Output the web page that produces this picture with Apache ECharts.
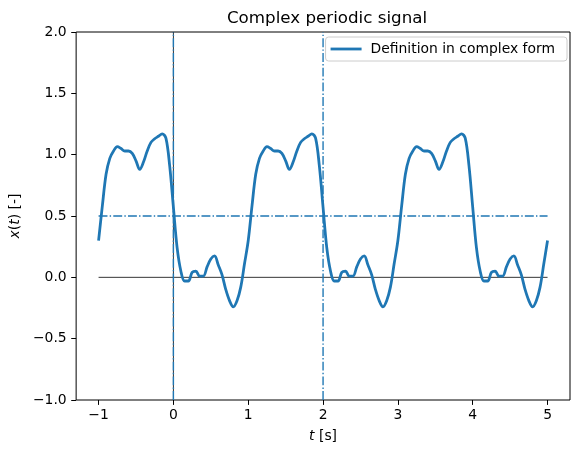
<!DOCTYPE html>
<html>
<head>
<meta charset="utf-8">
<script src="https://cdn.jsdelivr.net/npm/echarts@6/dist/echarts.min.js"></script>
<style>
html,body{margin:0;padding:0;background:#fff;}
#chart{width:579px;height:454px;}
</style>
</head>
<body>
<div id="chart"></div>
<script>
// Sample times (s)
const times = [
 -1.00,-0.95,-0.90,-0.85,-0.80,-0.75,-0.70,-0.65,-0.60,-0.55,-0.50,-0.45,-0.40,-0.35,-0.30,-0.25,-0.20,-0.15,-0.10,-0.05,
  0.00, 0.05, 0.10, 0.15, 0.20, 0.25, 0.30, 0.35, 0.40, 0.45, 0.50, 0.55, 0.60, 0.65, 0.70, 0.75, 0.80, 0.85, 0.90, 0.95,
  1.00, 1.05, 1.10, 1.15, 1.20, 1.25, 1.30, 1.35, 1.40, 1.45, 1.50, 1.55, 1.60, 1.65, 1.70, 1.75, 1.80, 1.85, 1.90, 1.95,
  2.00, 2.05, 2.10, 2.15, 2.20, 2.25, 2.30, 2.35, 2.40, 2.45, 2.50, 2.55, 2.60, 2.65, 2.70, 2.75, 2.80, 2.85, 2.90, 2.95,
  3.00, 3.05, 3.10, 3.15, 3.20, 3.25, 3.30, 3.35, 3.40, 3.45, 3.50, 3.55, 3.60, 3.65, 3.70, 3.75, 3.80, 3.85, 3.90, 3.95,
  4.00, 4.05, 4.10, 4.15, 4.20, 4.25, 4.30, 4.35, 4.40, 4.45, 4.50, 4.55, 4.60, 4.65, 4.70, 4.75, 4.80, 4.85, 4.90, 4.95,
  5.00
];
// x(t) values
const signal = [
 0.30,0.58,0.84,0.97,1.03,1.065,1.05,1.03,1.03,1.01,0.95,0.88,0.94,1.03,1.10,1.13,1.15,1.17,1.135,0.91,
 0.57,0.24,0.05,-0.03,-0.03,0.04,0.05,0.01,0.01,0.085,0.15,0.175,0.10,0.02,-0.10,-0.19,-0.24,-0.19,-0.08,0.11,
 0.30,0.58,0.84,0.97,1.03,1.065,1.05,1.03,1.03,1.01,0.95,0.88,0.94,1.03,1.10,1.13,1.15,1.17,1.135,0.91,
 0.57,0.24,0.05,-0.03,-0.03,0.04,0.05,0.01,0.01,0.085,0.15,0.175,0.10,0.02,-0.10,-0.19,-0.24,-0.19,-0.08,0.11,
 0.30,0.58,0.84,0.97,1.03,1.065,1.05,1.03,1.03,1.01,0.95,0.88,0.94,1.03,1.10,1.13,1.15,1.17,1.135,0.91,
 0.57,0.24,0.05,-0.03,-0.03,0.04,0.05,0.01,0.01,0.085,0.15,0.175,0.10,0.02,-0.10,-0.19,-0.24,-0.19,-0.08,0.11,
 0.30
];
const xTicks = [-1, 0, 1, 2, 3, 4, 5];
const yTicks = [-1.0, -0.5, 0.0, 0.5, 1.0, 1.5, 2.0];
// reference lines
const zeroLine = [[-1, 0], [5, 0]];
const originLine = [[0, -1], [0, 2]];
const halfLine = [[-1, 0.5], [5, 0.5]];
const periodLine0 = [[0, -1], [0, 2]];
const periodLine2 = [[2, -1], [2, 2]];

const seriesName = 'Definition in complex form';
const blue = '#1f77b4';
const font = 'DejaVu Sans';
const fs = 13.9;
const dashDot = [8.9, 2.2, 1.4, 2.2];

const chart = echarts.init(document.getElementById('chart'), null, {renderer: 'canvas'});
const fmt = v => (Math.round(v * 10) / 10).toFixed(1).replace('-', '\u2212');
const fmtX = v => String(Math.round(v)).replace('-', '\u2212');

function refSeries(data, color, width, type, z) {
  return {
    type: 'line', data: data, symbol: 'none', silent: true, z: z,
    lineStyle: {color: color, width: width, type: type},
    animation: false
  };
}

chart.setOption({
  animation: false,
  backgroundColor: '#fff',
  title: {
    text: 'Complex periodic signal',
    left: 322, top: 5, textAlign: 'center',
    textStyle: {fontFamily: font, fontSize: 16.7, fontWeight: 'normal', color: '#000'}
  },
  legend: {
    data: [seriesName],
    right: 12, top: 37,
    orient: 'vertical',
    icon: 'rect', itemWidth: 31, itemHeight: 2.8, itemGap: 8,
    padding: [5, 12, 5, 5],
    borderColor: '#cccccc', borderWidth: 1, borderRadius: 3,
    backgroundColor: 'rgba(255,255,255,0.8)',
    textStyle: {fontFamily: font, fontSize: fs, color: '#000', padding: [0, 0, 0, 4]}
  },
  grid: {
    left: 74, right: 9, top: 32, bottom: 54,
    show: true, borderColor: '#000', borderWidth: 1, backgroundColor: 'transparent'
  },
  xAxis: {
    type: 'value', min: -1.3, max: 5.3,
    name: '{i|t} [s]', nameLocation: 'middle', nameGap: 29,
    nameTextStyle: {fontFamily: font, fontSize: fs, color: '#000',
      rich: {i: {fontFamily: font, fontSize: fs, fontStyle: 'italic', color: '#000'}}},
    axisLine: {show: false, onZero: false},
    splitLine: {show: false},
    axisTick: {show: true, inside: false, length: 4.9, customValues: xTicks, lineStyle: {color: '#000', width: 1}},
    axisLabel: {customValues: xTicks, formatter: fmtX, margin: 8,
      fontFamily: font, fontSize: fs, color: '#000'}
  },
  yAxis: {
    type: 'value', min: -1, max: 2, interval: 0.5,
    name: '{i|x}({i|t}) [-]', nameLocation: 'middle', nameGap: 43, nameRotate: 90,
    nameTextStyle: {fontFamily: font, fontSize: fs, color: '#000',
      rich: {i: {fontFamily: font, fontSize: fs, fontStyle: 'italic', color: '#000'}}},
    axisLine: {show: false, onZero: false},
    splitLine: {show: false},
    axisTick: {show: true, inside: false, length: 4.9, lineStyle: {color: '#000', width: 1}},
    axisLabel: {formatter: fmt, margin: 9.5, fontFamily: font, fontSize: fs, color: '#000',
      showMinLabel: true, showMaxLabel: true}
  },
  series: [
    refSeries(zeroLine, '#000', 0.8, 'solid', 1),
    refSeries(originLine, '#000', 0.8, 'solid', 1),
    {
      name: seriesName, type: 'line', symbol: 'none', smooth: 0.35, z: 2,
      data: times.map((t, i) => [t, signal[i]]),
      lineStyle: {color: blue, width: 2.78},
      itemStyle: {color: blue}
    },
    refSeries(halfLine, blue, 1.39, dashDot, 3),
    refSeries(periodLine0, blue, 1.39, dashDot, 3),
    refSeries(periodLine2, blue, 1.39, dashDot, 3)
  ]
});
</script>
</body>
</html>
